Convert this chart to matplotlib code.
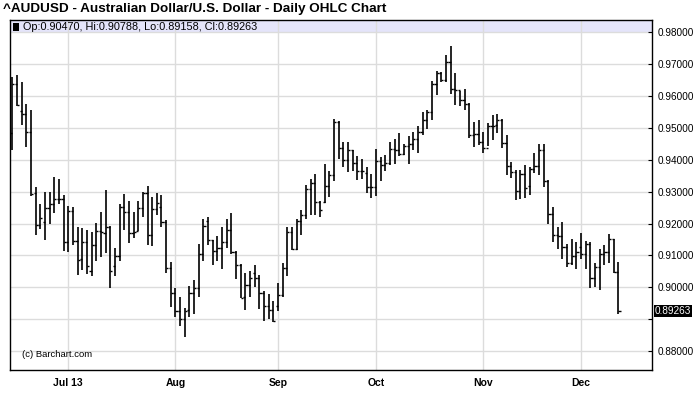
"""AUDUSD daily OHLC chart, Barchart style."""

import matplotlib

matplotlib.use("Agg")
import matplotlib.pyplot as plt
import numpy as np
import pandas as pd
from matplotlib.patches import Rectangle

plt.rcParams["font.family"] = ["Liberation Sans", "DejaVu Sans"]

# trading days, Jun 13 .. Dec 12 2013
dates = pd.bdate_range("2013-06-13", "2013-12-12")

opens = [
    0.94844, 0.96385, 0.95542, 0.95448, 0.94865, 0.92948, 0.91948, 0.92052, 0.92500, 0.92604,
    0.92771, 0.92771, 0.91406, 0.92385, 0.91448, 0.90896, 0.91427, 0.90521, 0.91333, 0.91760,
    0.91708, 0.91896, 0.90667, 0.90990, 0.92521, 0.92375, 0.91698, 0.91771, 0.92490, 0.92958,
    0.91646, 0.92448, 0.92521, 0.92052, 0.90615, 0.89833, 0.89250, 0.89000, 0.89281, 0.89833,
    0.89979, 0.91031, 0.92073, 0.91469, 0.91135, 0.91219, 0.91417, 0.91812, 0.91104, 0.90698,
    0.89708, 0.90062, 0.90437, 0.90292, 0.89823, 0.89417, 0.89281, 0.89417, 0.89750, 0.90594,
    0.91729, 0.91208, 0.92073, 0.92271, 0.93083, 0.93271, 0.92687, 0.92687, 0.93187, 0.93531,
    0.95198, 0.94375, 0.93979, 0.94292, 0.93906, 0.93656, 0.93583, 0.93156, 0.93156, 0.93969,
    0.93823, 0.93906, 0.94323, 0.94292, 0.94177, 0.94448, 0.94500, 0.94656, 0.94885, 0.95250,
    0.95500, 0.96365, 0.96708, 0.96500, 0.97073, 0.96219, 0.96188, 0.95875, 0.95740, 0.94781,
    0.94802, 0.94552, 0.94385, 0.95073, 0.95094, 0.95250, 0.94531, 0.93792, 0.93615, 0.93010,
    0.93562, 0.93167, 0.93719, 0.93792, 0.94312, 0.93323, 0.92312, 0.91635, 0.91604, 0.91271,
    0.90771, 0.90979, 0.91260, 0.91031, 0.91344, 0.90302, 0.90635, 0.91031, 0.91104, 0.91500,
    0.90470,
]
highs = [
    0.96594, 0.96646, 0.96427, 0.95750, 0.95573, 0.93146, 0.92604, 0.92990, 0.92990, 0.93458,
    0.93406, 0.92896, 0.92552, 0.92521, 0.91896, 0.91844, 0.91802, 0.91719, 0.92010, 0.92365,
    0.93052, 0.91937, 0.91219, 0.92625, 0.92927, 0.92708, 0.92365, 0.92708, 0.92990, 0.93177,
    0.92844, 0.92958, 0.92896, 0.92115, 0.90781, 0.89990, 0.89698, 0.89344, 0.90031, 0.90229,
    0.91344, 0.92146, 0.92198, 0.91469, 0.91604, 0.91885, 0.92135, 0.92333, 0.91135, 0.90719,
    0.90448, 0.90510, 0.90698, 0.90375, 0.89885, 0.89781, 0.89573, 0.90135, 0.90750, 0.91885,
    0.91885, 0.92156, 0.92417, 0.93198, 0.93396, 0.93562, 0.92719, 0.93875, 0.93635, 0.95281,
    0.95229, 0.94573, 0.94573, 0.94292, 0.94104, 0.94010, 0.93760, 0.93552, 0.94344, 0.94094,
    0.94156, 0.94573, 0.94656, 0.94854, 0.94480, 0.94740, 0.94865, 0.95073, 0.95490, 0.95562,
    0.96479, 0.96792, 0.96760, 0.97281, 0.97573, 0.96708, 0.96156, 0.96219, 0.95771, 0.95177,
    0.95250, 0.94885, 0.95146, 0.95406, 0.95427, 0.95281, 0.94781, 0.93917, 0.93687, 0.93687,
    0.93844, 0.93760, 0.94208, 0.94490, 0.94490, 0.93354, 0.92510, 0.91885, 0.92042, 0.91344,
    0.91521, 0.91417, 0.91708, 0.91448, 0.91417, 0.90771, 0.91187, 0.91323, 0.91656, 0.91521,
    0.90788,
]
lows = [
    0.94292, 0.95677, 0.95104, 0.94406, 0.92865, 0.91635, 0.91823, 0.91479, 0.91979, 0.92344,
    0.92625, 0.91125, 0.91094, 0.91323, 0.90385, 0.90542, 0.90417, 0.90344, 0.90812, 0.90937,
    0.91083, 0.89969, 0.90344, 0.90812, 0.91812, 0.91375, 0.91542, 0.91750, 0.92219, 0.91323,
    0.91292, 0.92281, 0.91885, 0.90448, 0.89375, 0.89062, 0.88771, 0.88448, 0.89052, 0.89177,
    0.89708, 0.90833, 0.91333, 0.90708, 0.90823, 0.90583, 0.91219, 0.91031, 0.90250, 0.89656,
    0.89302, 0.89698, 0.90021, 0.89312, 0.88927, 0.89000, 0.88896, 0.89260, 0.89698, 0.90365,
    0.91167, 0.91156, 0.91635, 0.92156, 0.92260, 0.92281, 0.92208, 0.92646, 0.92833, 0.93344,
    0.94031, 0.93760, 0.93615, 0.93635, 0.93354, 0.93396, 0.92958, 0.92802, 0.92865, 0.93344,
    0.93635, 0.93844, 0.93865, 0.94104, 0.94135, 0.93865, 0.94313, 0.94208, 0.94781, 0.94958,
    0.95240, 0.96031, 0.96427, 0.96427, 0.96062, 0.95719, 0.95698, 0.95562, 0.94698, 0.94396,
    0.94469, 0.94219, 0.94417, 0.94625, 0.94833, 0.94365, 0.93531, 0.93427, 0.92729, 0.92781,
    0.92802, 0.92906, 0.93583, 0.93531, 0.93146, 0.91990, 0.91427, 0.91187, 0.90875, 0.90646,
    0.90698, 0.90562, 0.90875, 0.90562, 0.89969, 0.90021, 0.89906, 0.90687, 0.90771, 0.90458,
    0.89158,
]
closes = [
    0.96385, 0.95708, 0.95448, 0.94865, 0.92937, 0.91948, 0.92188, 0.92500, 0.92604, 0.92771,
    0.92771, 0.91427, 0.92385, 0.91448, 0.90865, 0.91427, 0.90677, 0.91333, 0.91760, 0.91740,
    0.91896, 0.90500, 0.90990, 0.92521, 0.92375, 0.91698, 0.91719, 0.92490, 0.92958, 0.91646,
    0.92448, 0.92646, 0.92052, 0.90615, 0.89833, 0.89250, 0.89000, 0.89260, 0.89833, 0.89979,
    0.91031, 0.91917, 0.91469, 0.91135, 0.91219, 0.91417, 0.91812, 0.91104, 0.90698, 0.89677,
    0.90062, 0.90281, 0.90292, 0.89823, 0.89417, 0.89281, 0.88948, 0.89750, 0.90594, 0.91729,
    0.91208, 0.92073, 0.92271, 0.93083, 0.93271, 0.92687, 0.92437, 0.93187, 0.93531, 0.95198,
    0.94375, 0.93979, 0.94292, 0.93906, 0.93656, 0.93635, 0.93156, 0.93156, 0.93969, 0.93823,
    0.93906, 0.94323, 0.94292, 0.94177, 0.94448, 0.94500, 0.94656, 0.94885, 0.95250, 0.95500,
    0.96365, 0.96708, 0.96500, 0.97073, 0.96219, 0.96188, 0.95875, 0.95740, 0.94781, 0.94802,
    0.94552, 0.94385, 0.95073, 0.95073, 0.95250, 0.94531, 0.93792, 0.93615, 0.93010, 0.93562,
    0.93115, 0.93719, 0.93792, 0.94312, 0.93323, 0.92312, 0.91635, 0.91604, 0.91271, 0.90771,
    0.90979, 0.91115, 0.91031, 0.91344, 0.90302, 0.90635, 0.91031, 0.91104, 0.91500, 0.90469,
    0.89263,
]

price_ticks = [0.88, 0.89, 0.90, 0.91, 0.92, 0.93, 0.94, 0.95, 0.96, 0.97, 0.98]
title = "^AUDUSD - Australian Dollar/U.S. Dollar - Daily OHLC Chart"


def month_starts(idx):
    pos, labels = [], []
    for i in range(1, len(idx)):
        if idx[i].month != idx[i - 1].month:
            pos.append(i)
            labels.append(idx[i].strftime("%b %y") if idx[i].month == 1 or not labels else idx[i].strftime("%b"))
    return pos, labels


def main():
    fig = plt.figure(figsize=(7.0, 4.11), dpi=100)
    ax = fig.add_axes([0.0147, 0.0998, 0.9167, 0.8515])

    x = np.arange(len(dates))
    o, h, l, c = map(np.asarray, (opens, highs, lows, closes))

    ax.set_xlim(-0.43, 137.2)
    ax.set_ylim(0.87405, 0.98385)

    # grid
    pos, labels = month_starts(dates)
    for p in pos:
        ax.axvline(p, color="#dcdcdc", lw=1.0, zorder=0.5)
    for t in price_ticks:
        ax.axhline(t, color="#dcdcdc", lw=1.0, zorder=0.5)

    # legend band
    ax.add_patch(Rectangle((0, 0.963), 1, 0.037, transform=ax.transAxes,
                           facecolor="#e4e4fa", edgecolor="none", zorder=0.3))
    ax.add_patch(Rectangle((0.0045, 0.97), 0.0085, 0.021, transform=ax.transAxes,
                           facecolor="black", edgecolor="none", zorder=3))
    ax.text(0.0195, 0.981, f"Op:{o[-1]:.5f}, Hi:{h[-1]:.5f}, Lo:{l[-1]:.5f}, Cl:{c[-1]:.5f}",
            transform=ax.transAxes, fontsize=7.8, va="center", ha="left", zorder=3)

    # OHLC bars
    w = 0.45
    ax.vlines(x, l, h, color="black", lw=1.2, zorder=2)
    ax.hlines(o, x - w, x, color="black", lw=1.0, zorder=2)
    ax.hlines(c, x, x + w, color="black", lw=1.0, zorder=2)

    # axes styling
    ax.set_xticks(pos)
    ax.set_xticklabels(labels, fontsize=7.5, fontweight="bold")
    ax.tick_params(axis="x", length=0, pad=6)
    ax.yaxis.tick_right()
    ax.set_yticks(price_ticks)
    ax.set_yticklabels(["" if t == 0.89 else f"{t:.5f}" for t in price_ticks], fontsize=7.2)
    ax.tick_params(axis="y", direction="in", length=3, pad=4, width=0.8)
    for s in ax.spines.values():
        s.set_linewidth(1.0)

    # last price marker
    ax.text(1.004, c[-1], f"{c[-1]:.5f}", transform=ax.get_yaxis_transform(),
            fontsize=7.2, color="white", va="center", ha="left",
            bbox=dict(boxstyle="square,pad=0.1", facecolor="black", edgecolor="none"))

    ax.text(0.018, 0.045, "(c) Barchart.com", transform=ax.transAxes, fontsize=6.8,
            va="center", ha="left")
    fig.text(0.004, 0.978, title, fontsize=9.7, fontweight="bold", va="center", ha="left")

    fig.savefig("out.png", dpi=100)
    plt.close(fig)


if __name__ == "__main__":
    main()
